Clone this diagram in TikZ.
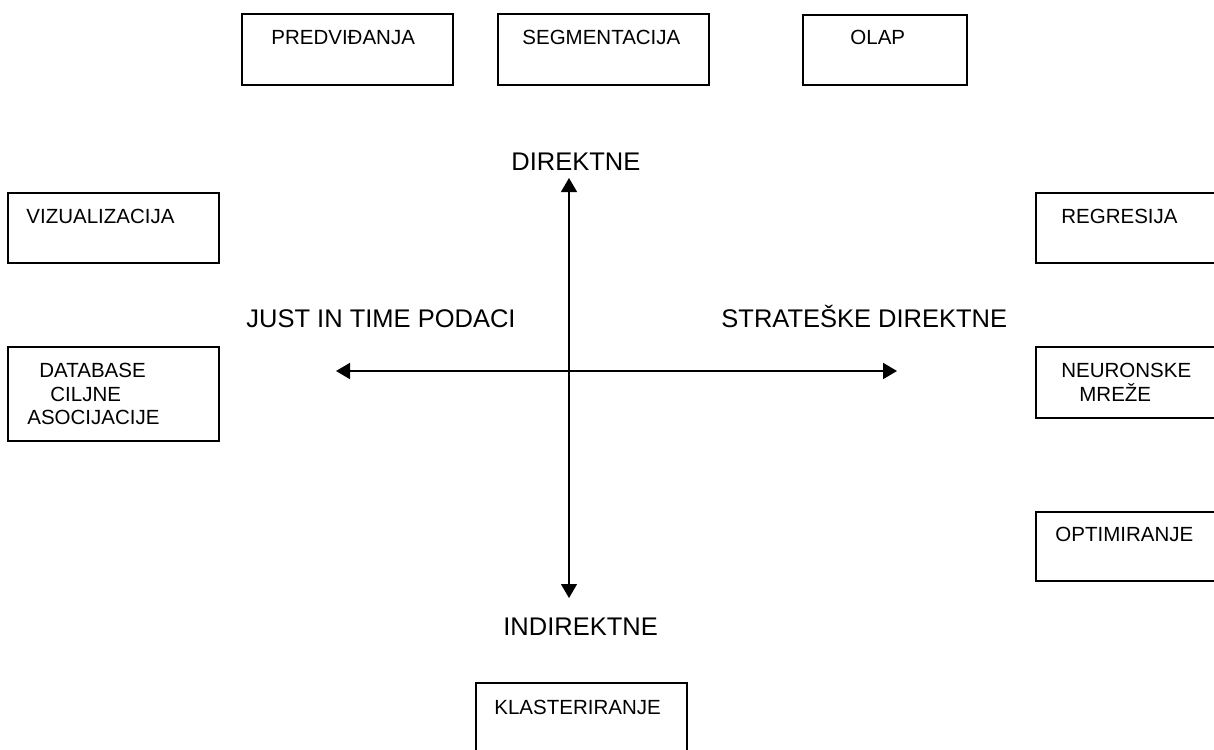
\documentclass[tikz,border=0pt]{standalone}
\usepackage{fontspec}
\setmainfont{Liberation Sans}
\usetikzlibrary{arrows.meta,fit}
\begin{document}
\begin{tikzpicture}[x=0.5pt,y=-0.5pt,
  box/.style={draw=black,line width=1pt,inner sep=0pt,fill=none},
  boxtext/.style={anchor=base west,inner sep=0pt,font=\fontsize{10.25}{12}\selectfont},
  axislabel/.style={anchor=base west,inner sep=0pt,font=\fontsize{12.75}{15}\selectfont},
  harrow/.style={line width=1pt,{Triangle[length=7pt,width=8pt]}-{Triangle[length=7pt,width=8pt]}},
  varrow/.style={line width=0.6pt,{Triangle[length=7pt,width=8pt]}-{Triangle[length=7pt,width=8pt]}}]
\useasboundingbox (0,0) rectangle (1214,749);
\clip (0,0) rectangle (1214,749);
% boxes
\node[box,fit={(242,14)(453,85)}] (pred) {};
\node[box,fit={(498,14)(709,85)}] (seg) {};
\node[box,fit={(803,15)(967,85)}] (olap) {};
\node[box,fit={(8,193)(219,263)}] (viz) {};
\node[box,fit={(1036,193)(1247,263)}] (reg) {};
\node[box,fit={(8,347)(219,441)}] (db) {};
\node[box,fit={(1036,347)(1247,418)}] (neu) {};
\node[box,fit={(1036,512)(1247,581)}] (opt) {};
\node[box,fit={(476,683)(687,770)}] (kla) {};
% box texts
\node[boxtext] (tpred) at (271,45) {PREDVIĐANJA};
\node[boxtext] (tseg) at (522,45) {SEGMENTACIJA};
\node[boxtext] (tolap) at (850,45) {OLAP};
\node[boxtext] (tviz) at (26,223) {VIZUALIZACIJA};
\node[boxtext] (treg) at (1061,223) {REGRESIJA};
\node[boxtext] (tdb1) at (39,377) {DATABASE};
\node[boxtext] (tdb2) at (50,401) {CILJNE};
\node[boxtext] (tdb3) at (27,424) {ASOCIJACIJE};
\node[boxtext] (tneu1) at (1061,377) {NEURONSKE};
\node[boxtext] (tneu2) at (1079,401) {MREŽE};
\node[boxtext] (topt) at (1055,541) {OPTIMIRANJE};
\node[boxtext] (tkla) at (494,714) {KLASTERIRANJE};
% axis labels
\node[axislabel] (dir) at (511,170) {DIREKTNE};
\node[axislabel] (indir) at (503,635) {INDIREKTNE};
\node[axislabel] (jit) at (246,327) {JUST IN TIME PODACI};
\node[axislabel] (strat) at (721,327) {STRATEŠKE DIREKTNE};
% axes
\coordinate (hl) at (336,371);
\coordinate (hr) at (897,371);
\coordinate (vt) at (569,178);
\coordinate (vb) at (569,598);
\draw[harrow] (hl) -- (hr);
\draw[varrow] (vt) -- (vb);
\end{tikzpicture}
\end{document}
